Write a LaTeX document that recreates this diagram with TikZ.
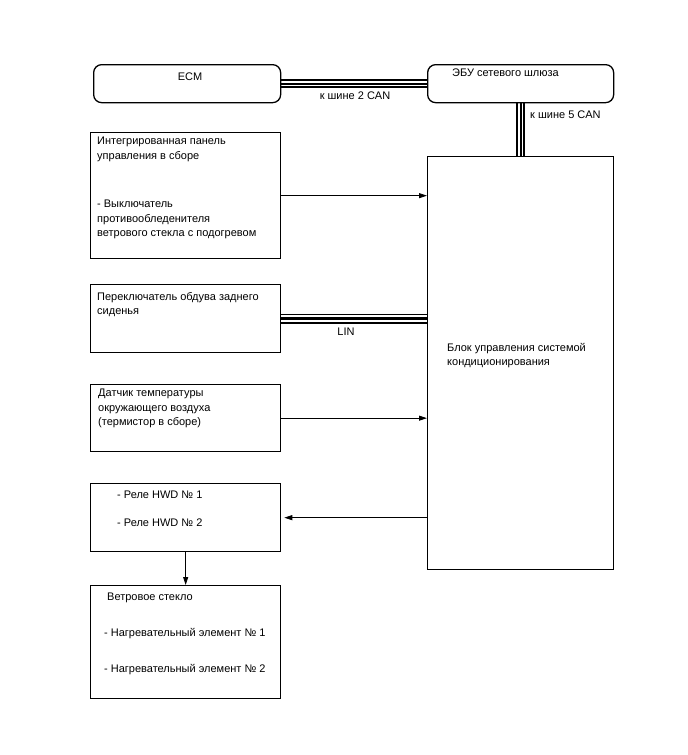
\documentclass[tikz,border=0pt]{standalone}
\usepackage{fontspec}
\setmainfont{Liberation Sans}
\usetikzlibrary{arrows.meta,backgrounds}

\tikzset{
  unit/.style={draw, line width=1.3pt, anchor=north west, inner sep=0pt},
  txt/.style={anchor=mid west, inner sep=0pt, align=left,
    font=\fontsize{11}{14.6}\selectfont},
  para/.style={txt, anchor=north west},
  bus/.style={line width=9pt, postaction={draw=white, line width=5.5pt},
    postaction={draw=black, line width=2pt}},
  lin/.style={line width=10pt, postaction={draw=white, line width=6.5pt},
    postaction={draw=black, line width=3.5pt}},
  sig/.style={->, line width=0.8pt},
}

\begin{document}
\begin{tikzpicture}[x=1pt, y=-1pt, >={Triangle[length=8pt, width=5pt]}]
    \useasboundingbox (0,0) rectangle (688,755);

    % blocks
    \node[unit, rounded corners=8pt, minimum width=187pt, minimum height=38pt] (ecm) at (93,64) {};
    \node[unit, rounded corners=8pt, minimum width=186pt, minimum height=38pt] (gw) at (427,64) {};
    \node[unit, minimum width=186pt, minimum height=413pt] (blk) at (427,156) {};
    \node[unit, minimum width=190pt, minimum height=126pt] (panel) at (90,132) {};
    \node[unit, minimum width=190pt, minimum height=68pt] (rear) at (90,284) {};
    \node[unit, minimum width=190pt, minimum height=67pt] (amb) at (90,384) {};
    \node[unit, minimum width=190pt, minimum height=68pt] (relay) at (90,483) {};
    \node[unit, minimum width=190pt, minimum height=113pt] (wind) at (90,585) {};

    % texts
    \node[txt, anchor=mid] (ecm-t) at (190,78) {ECM};
    \node[txt] (gw-t) at (452,74) {ЭБУ сетевого шлюза};
    \node[para] (blk-t) at (447,343) {Блок управления системой\\кондиционирования};
    \node[para] (panel-t) at (97,137) {Интегрированная панель\\управления в сборе};
    \node[para] (panel-s) at (97,200) {- Выключатель\\противообледенителя\\ветрового стекла с подогревом};
    \node[para] (rear-t) at (97,292) {Переключатель обдува заднего\\сиденья};
    \node[para] (amb-t) at (98,389) {Датчик температуры\\окружающего воздуха\\(термистор в сборе)};
    \node[txt] (relay-1) at (117,496) {- Реле HWD № 1};
    \node[txt] (relay-2) at (117,524) {- Реле HWD № 2};
    \node[txt] (wind-t) at (107,598) {Ветровое стекло};
    \node[txt] (wind-1) at (104,634) {- Нагревательный элемент № 1};
    \node[txt] (wind-2) at (104,670) {- Нагревательный элемент № 2};

    % buses
    \begin{scope}[on background layer]
        \draw[bus] (ecm.east) -- (gw.west);
        \draw[bus] (gw.south) -- (gw.south |- blk.north);
        \draw[lin] (rear.east) -- (rear.east -| blk.west);
    \end{scope}
    \node[txt, anchor=mid] (can2) at (355,97) {к шине 2 CAN};
    \node[txt] (can5) at (530,116) {к шине 5 CAN};
    \node[txt, anchor=mid] (lin-t) at (346,333) {LIN};

    % signals
    \draw[sig] (panel.east) -- (panel.east -| blk.west);
    \draw[sig] (amb.east) -- (amb.east -| blk.west);
    \draw[sig] (relay.east -| blk.west) -- ([xshift=3pt]relay.east);
    \draw[sig] (relay.south) -- (wind.north);
\end{tikzpicture}
\end{document}
